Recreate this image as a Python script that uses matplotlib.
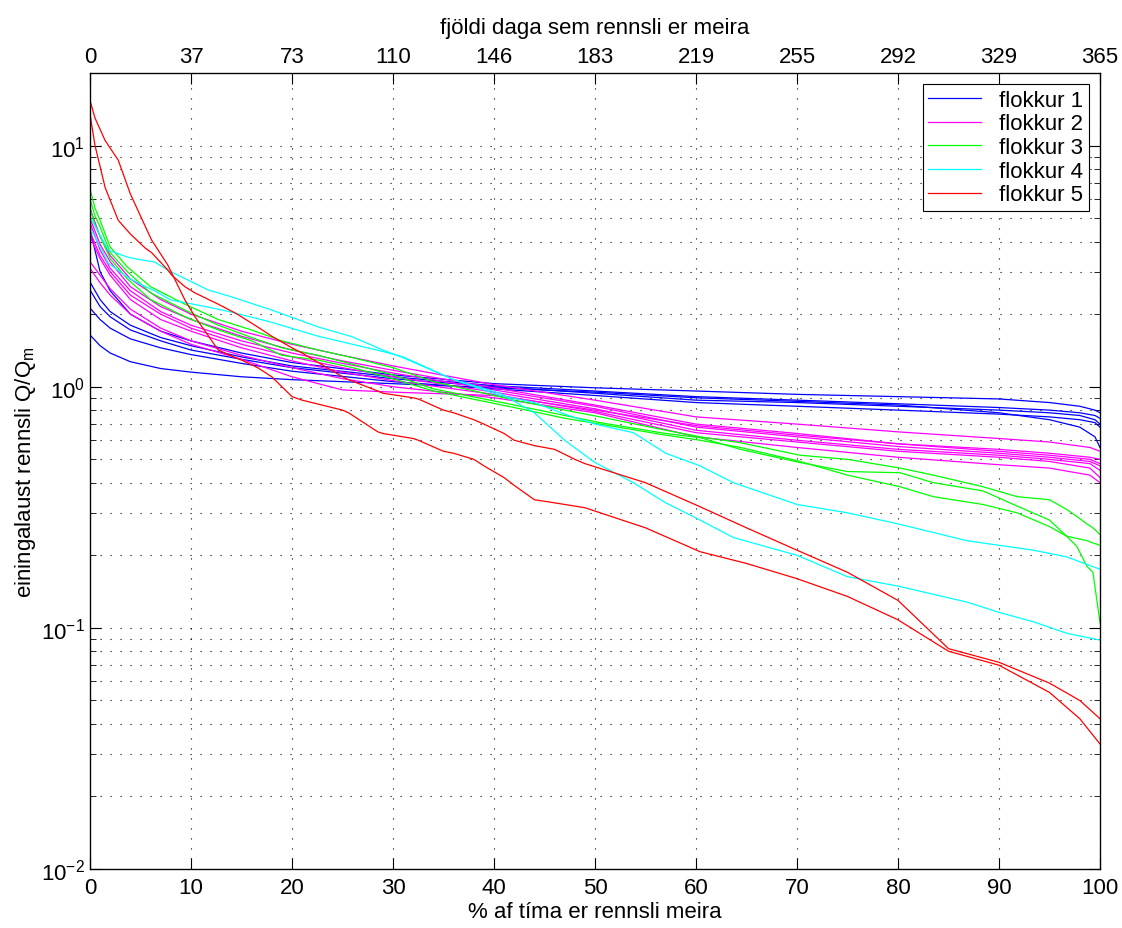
import matplotlib
matplotlib.use('Agg')
import matplotlib.pyplot as plt
from matplotlib.ticker import LogLocator, NullFormatter, FixedLocator

plt.rcParams['font.family'] = ['Liberation Sans', 'DejaVu Sans']
plt.rcParams['font.size'] = 16
plt.rcParams['mathtext.fontset'] = 'custom'
plt.rcParams['mathtext.rm'] = 'Liberation Sans'

# % af tima, lesid af myndinni
p_red = [0, 0.5, 1.5, 2.8, 4, 5.5, 6.1, 7.7, 8.1, 9.4, 10.4, 12.7, 14.4, 15, 16.6, 18, 20, 21, 25, 25.6,
         28.5, 29, 32, 32.5, 35, 36, 38, 39, 41, 42, 44, 46, 48, 49, 55, 60.4, 65, 70, 75, 80, 85, 90, 95, 98, 100]
red_a = [15.4, 13.0, 10.5, 8.7, 6.3, 4.6, 4.06, 3.2, 2.96, 2.29, 1.95, 1.42, 1.32, 1.29, 1.2, 1.1, 0.91, 0.88, 0.80, 0.78,
         0.65, 0.64, 0.61, 0.60, 0.54, 0.53, 0.50, 0.47, 0.42, 0.39, 0.34, 0.33, 0.32, 0.315, 0.26, 0.207, 0.185, 0.16, 0.135, 0.108, 0.08, 0.07, 0.054, 0.042, 0.033]
red_b = [13.5, 10.0, 6.7, 4.9, 4.3, 3.75, 3.6, 3.05, 2.9, 2.6, 2.45, 2.2, 2.02, 1.95, 1.77, 1.62, 1.45, 1.38, 1.1, 1.07,
         0.96, 0.94, 0.90, 0.89, 0.80, 0.78, 0.73, 0.70, 0.64, 0.60, 0.57, 0.55, 0.50, 0.48, 0.40, 0.318, 0.26, 0.21, 0.17, 0.13, 0.082, 0.072, 0.059, 0.05, 0.042]

p_cyan = [0, 1.8, 3.7, 4.7, 6.4, 8, 9.7, 11.7, 14, 18, 22.6, 26, 29, 31, 36, 40.6, 44, 47, 50, 53.8, 57, 60.4, 63.7,
          70, 75, 80, 86.8, 90, 93.4, 96.7, 100]
cyan_a = [5.06, 3.69, 3.45, 3.38, 3.29, 3.0, 2.77, 2.52, 2.36, 2.08, 1.77, 1.61, 1.42, 1.32, 1.07, 0.94, 0.78, 0.60, 0.485,
          0.40, 0.33, 0.28, 0.237, 0.20, 0.163, 0.149, 0.128, 0.116, 0.106, 0.095, 0.089]
cyan_b = [4.6, 3.26, 2.85, 2.70, 2.5, 2.29, 2.22, 2.14, 2.04, 1.85, 1.62, 1.50, 1.40, 1.33, 1.07, 0.92, 0.86, 0.77, 0.70,
          0.645, 0.53, 0.47, 0.40, 0.325, 0.30, 0.27, 0.23, 0.22, 0.21, 0.197, 0.175]

p_green = [0, 0.5, 1, 2, 3.7, 6, 9.4, 12.7, 16, 19, 22.6, 26, 30, 34, 42, 47, 50.5, 57, 60.4, 64.4, 70.3, 75, 80.2,
           83.5, 88.4, 91.8, 95, 96.7, 97.7, 98.7, 99.3, 100]
green_a = [6.6, 5.5, 4.9, 3.8, 3.14, 2.6, 2.2, 1.9, 1.72, 1.55, 1.42, 1.32, 1.2, 1.05, 0.88, 0.80, 0.75, 0.66, 0.62, 0.586,
           0.52, 0.50, 0.46, 0.43, 0.385, 0.35, 0.34, 0.31, 0.29, 0.27, 0.26, 0.244]
green_b = [6.0, 5.1, 4.6, 3.6, 3.0, 2.45, 2.08, 1.8, 1.6, 1.45, 1.35, 1.24, 1.12, 0.98, 0.84, 0.76, 0.71, 0.64, 0.615, 0.55,
           0.485, 0.445, 0.44, 0.40, 0.37, 0.32, 0.28, 0.24, 0.235, 0.23, 0.225, 0.22]
green_c = [5.5, 4.7, 4.2, 3.4, 2.8, 2.3, 1.95, 1.72, 1.55, 1.35, 1.29, 1.2, 1.08, 0.96, 0.82, 0.74, 0.70, 0.63, 0.60, 0.56,
           0.49, 0.43, 0.385, 0.35, 0.325, 0.30, 0.263, 0.24, 0.218, 0.18, 0.17, 0.105]

p_mag = [0, 1, 2, 4, 7, 10, 15, 20, 25, 30, 40, 50, 60, 70, 80, 90, 95, 99, 100]
mag_1 = [5.5, 4.2, 3.5, 2.8, 2.3, 2.0, 1.7, 1.5, 1.35, 1.22, 1.02, 0.88, 0.75, 0.70, 0.65, 0.61, 0.59, 0.56, 0.54]
mag_2 = [5.0, 3.9, 3.3, 2.6, 2.15, 1.9, 1.62, 1.42, 1.28, 1.17, 0.99, 0.84, 0.70, 0.64, 0.58, 0.55, 0.53, 0.51, 0.50]
mag_3 = [4.8, 3.7, 3.1, 2.5, 2.05, 1.8, 1.55, 1.38, 1.25, 1.14, 0.97, 0.83, 0.68, 0.62, 0.565, 0.53, 0.51, 0.49, 0.47]
mag_4 = [4.4, 3.5, 3.0, 2.4, 2.0, 1.75, 1.5, 1.33, 1.2, 1.1, 0.95, 0.81, 0.66, 0.60, 0.55, 0.52, 0.50, 0.48, 0.45]
mag_5 = [4.2, 3.4, 2.9, 2.3, 1.9, 1.7, 1.45, 1.28, 1.15, 1.06, 0.93, 0.79, 0.645, 0.59, 0.54, 0.51, 0.49, 0.46, 0.42]
mag_6 = [3.3, 2.9, 2.55, 2.1, 1.75, 1.55, 1.35, 1.2, 1.08, 1.0, 0.90, 0.78, 0.62, 0.56, 0.51, 0.475, 0.46, 0.43, 0.40]
mag_7 = [3.1, 2.7, 2.4, 2.0, 1.7, 1.5, 1.3, 1.1, 0.97, 0.95, 0.92, 0.80, 0.69, 0.63, 0.58, 0.54, 0.52, 0.50, 0.48]

p_blue = [0, 1, 2, 4, 7, 10, 15, 20, 30, 40, 50, 60, 70, 80, 90, 95, 98, 99.5, 100]
blue_1 = [4.5, 3.0, 2.5, 2.0, 1.7, 1.55, 1.38, 1.26, 1.12, 1.03, 0.99, 0.96, 0.93, 0.91, 0.89, 0.86, 0.83, 0.80, 0.78]
blue_2 = [2.72, 2.3, 2.05, 1.8, 1.6, 1.48, 1.33, 1.22, 1.1, 1.01, 0.96, 0.91, 0.88, 0.85, 0.82, 0.80, 0.78, 0.76, 0.74]
blue_3 = [2.52, 2.15, 1.95, 1.72, 1.55, 1.42, 1.3, 1.2, 1.08, 1.0, 0.94, 0.88, 0.86, 0.83, 0.80, 0.78, 0.76, 0.73, 0.70]
blue_4 = [2.12, 1.9, 1.75, 1.58, 1.45, 1.36, 1.25, 1.16, 1.05, 0.98, 0.92, 0.86, 0.83, 0.80, 0.77, 0.75, 0.73, 0.71, 0.68]
blue_5 = [1.64, 1.48, 1.38, 1.27, 1.19, 1.15, 1.1, 1.07, 1.03, 0.99, 0.95, 0.90, 0.87, 0.84, 0.78, 0.73, 0.68, 0.62, 0.56]

top_labels = ['0', '37', '73', '110', '146', '183', '219', '255', '292', '329', '365']

fig = plt.figure(figsize=(11.22, 9.29), dpi=100)
ax = fig.add_axes([0.0802, 0.0635, 0.9002, 0.8568])

lw = 0.9
groups = [
    ('flokkur 1', (0, 0, 1), p_blue, [blue_1, blue_2, blue_3, blue_4, blue_5]),
    ('flokkur 2', (1, 0, 1), p_mag, [mag_1, mag_2, mag_3, mag_4, mag_5, mag_6, mag_7]),
    ('flokkur 3', (0, 1, 0), p_green, [green_a, green_b, green_c]),
    ('flokkur 4', (0, 1, 1), p_cyan, [cyan_a, cyan_b]),
    ('flokkur 5', (1, 0, 0), p_red, [red_a, red_b]),
]
handles = []
for name, col, px, curves in groups:
    for i, c in enumerate(curves):
        h, = ax.plot(px, c, color=col, lw=lw)
        if i == 0:
            h.set_label(name)
            handles.append(h)

ax.set_yscale('log')
ax.set_xlim(0, 100)
ax.set_ylim(0.01, 20)
ax.set_xticks(range(0, 101, 10))
ax.yaxis.set_major_locator(LogLocator(base=10, numticks=10))
ax.yaxis.set_minor_locator(LogLocator(base=10, subs=range(2, 10), numticks=20))
ax.yaxis.set_minor_formatter(NullFormatter())

dot = (0, (1, 8))
ax.grid(True, which='major', axis='both', color='k', ls=dot, lw=0.8)
ax.grid(True, which='minor', axis='y', color='k', ls=dot, lw=0.8)

ax.tick_params(which='both', direction='in', top=False, right=True, labelsize=16)
ax.tick_params(which='major', length=8, width=0.8)
ax.tick_params(which='minor', length=4, width=0.6)
ax.tick_params(axis='x', pad=6)
for s in ax.spines.values():
    s.set_linewidth(0.9)

ax.set_xlabel('% af tíma er rennsli meira', fontsize=16, labelpad=2)
ax.set_ylabel('einingalaust rennsli Q/Q$_\\mathregular{m}$', fontsize=16, labelpad=2)

ax2 = ax.twiny()
ax2.set_xlim(0, 100)
ax2.xaxis.set_major_locator(FixedLocator(range(0, 101, 10)))
ax2.set_xticklabels(top_labels)
ax2.tick_params(direction='in', length=8, width=0.8, labelsize=16, pad=4)
ax2.set_xlabel('fjöldi daga sem rennsli er meira', fontsize=16, labelpad=10)

leg = ax.legend(handles=handles, loc='upper right', fontsize=16, frameon=True, fancybox=False,
                edgecolor='k', framealpha=1, borderaxespad=0.5, handlelength=2.4, labelspacing=0.12,
                borderpad=0.25, handletextpad=0.8)
leg.get_frame().set_linewidth(0.8)

fig.savefig('out.png', dpi=100)
